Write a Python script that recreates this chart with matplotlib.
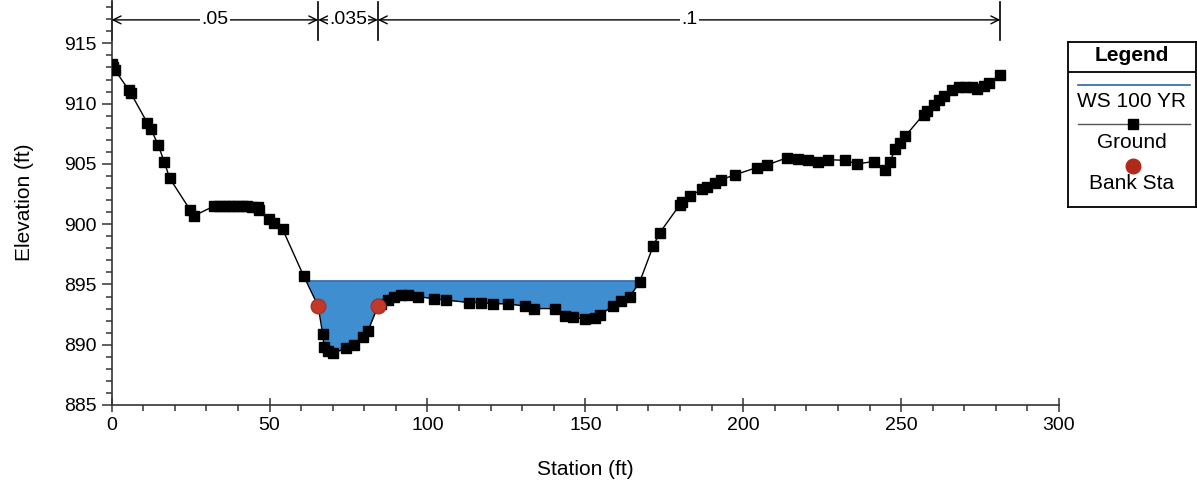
import numpy as np
import matplotlib.pyplot as plt
from matplotlib.ticker import MultipleLocator
from matplotlib.lines import Line2D

plt.rcParams['font.family'] = ['Liberation Sans', 'DejaVu Sans']

# ground survey points
station = [0.0, 0.5, 1.0, 5.5, 6.0, 11.3, 12.4, 14.7, 16.6, 18.4, 24.8, 26.1,
           32.4, 34.0, 35.5, 37.0, 38.5, 40.0, 41.5, 43.0, 44.5, 46.2, 46.7,
           49.9, 51.5, 54.1, 60.8, 65.4, 66.8, 67.3, 68.5, 70.0, 74.2, 76.8,
           79.5, 81.1, 84.3, 85.3, 87.4, 89.5, 91.5, 93.8, 97.0, 102.2, 105.9,
           113.3, 117.0, 120.7, 125.5, 130.8, 133.9, 140.3, 143.5, 146.1,
           149.8, 153.0, 154.6, 158.8, 161.4, 164.1, 167.2, 171.5, 173.6,
           179.9, 180.5, 183.1, 186.8, 188.4, 191.0, 193.1, 197.4, 204.3,
           207.4, 213.8, 217.5, 220.6, 223.8, 227.0, 232.3, 236.0, 241.3,
           245.0, 246.5, 248.1, 249.7, 251.3, 257.1, 258.2, 260.3, 261.9,
           263.5, 266.1, 268.2, 270.3, 272.4, 274.0, 276.1, 277.7, 281.4]
elevation = [913.3, 913.0, 912.8, 911.1, 910.9, 908.4, 907.9, 906.6, 905.2,
             903.8, 901.2, 900.7, 901.5, 901.5, 901.5, 901.5, 901.5, 901.5,
             901.5, 901.5, 901.4, 901.4, 901.2, 900.4, 900.1, 899.6, 895.7,
             893.2, 890.9, 889.8, 889.5, 889.3, 889.7, 890.0, 890.6, 891.1,
             893.2, 893.4, 893.7, 894.0, 894.1, 894.1, 894.0, 893.8, 893.7,
             893.5, 893.5, 893.4, 893.4, 893.2, 893.0, 893.0, 892.4, 892.3,
             892.1, 892.2, 892.5, 893.2, 893.6, 894.0, 895.2, 898.2, 899.3,
             901.6, 901.8, 902.3, 902.9, 903.1, 903.4, 903.7, 904.1, 904.7,
             904.9, 905.5, 905.4, 905.3, 905.2, 905.35, 905.3, 905.0, 905.2,
             904.5, 905.2, 906.2, 906.7, 907.3, 909.1, 909.4, 909.9, 910.3,
             910.6, 911.1, 911.4, 911.4, 911.4, 911.2, 911.5, 911.7, 912.4]

bank_sta = [65.4, 84.3]
bank_elev = [893.2, 893.2]
ws_elev = 895.3

# Manning's n reaches
n_bounds = [0.0, 65.4, 84.3, 281.4]
n_labels = ['.05', '.035', '.1']

x = np.array(station)
z = np.array(elevation)

fig = plt.figure(figsize=(11.97, 4.87), dpi=100)
ax = fig.add_axes([0.0933, 0.1684, 0.7914, 0.8316])

# water surface
ax.fill_between(x, z, ws_elev, where=z <= ws_elev, interpolate=True,
                color='#3f8ed0', linewidth=0)
ax.plot(x, z, color='black', lw=1.0, marker='s', ms=6.5, zorder=3)
# ws line clipped to wet extent
left = np.interp(ws_elev, z[26:28][::-1], x[26:28][::-1])
right = np.interp(ws_elev, z[60:62], x[60:62])
ax.plot([left, right], [ws_elev, ws_elev], color='#2c63a8', lw=1.2, zorder=2)
ax.plot(bank_sta, bank_elev, 'o', color='#c0392b', ms=10.5, zorder=4,
        markeredgecolor='#b03020')

# n-value annotations
arrow_y = 916.95
for b in n_bounds:
    ax.plot([b, b], [915.3, 918.45], color='black', lw=1.2, clip_on=False)
for i, lab in enumerate(n_labels):
    a, b = n_bounds[i], n_bounds[i + 1]
    ax.annotate('', xy=(a, arrow_y), xytext=(b, arrow_y),
                arrowprops=dict(arrowstyle='<->', color='black', lw=1.0,
                                shrinkA=0, shrinkB=0, mutation_scale=14))
    ax.text((a + b) / 2, arrow_y, lab, ha='center', va='center', fontsize=14,
            bbox=dict(facecolor='white', edgecolor='none', pad=1.0))

ax.set_xlim(0, 300)
ax.set_ylim(885, 918.6)
ax.xaxis.set_major_locator(MultipleLocator(50))
ax.xaxis.set_minor_locator(MultipleLocator(10))
ax.yaxis.set_minor_locator(MultipleLocator(1))
ax.set_yticks([885, 890, 895, 900, 905, 910, 915])
ax.tick_params(axis='both', which='major', labelsize=14, length=7, width=1.1,
               direction='out', color='#333333')
ax.tick_params(axis='x', which='major', direction='inout', length=10)
ax.tick_params(axis='both', which='minor', length=4, width=1.1,
               direction='out', color='#333333')
for s in ['top', 'right']:
    ax.spines[s].set_visible(False)
for s in ['left', 'bottom']:
    ax.spines[s].set_linewidth(1.2)
    ax.spines[s].set_color('#333333')
ax.set_xlabel('Station (ft)', fontsize=15, labelpad=19)
ax.set_ylabel('Elevation (ft)', fontsize=15, labelpad=22)

# legend box drawn in its own axes, pixel coordinates
lg = fig.add_axes([0.8922, 0.575, 0.1069, 0.3388])
lg.set_xlim(1068, 1196)
lg.set_ylim(207, 42)
lg.set_xticks([])
lg.set_yticks([])
for s in lg.spines.values():
    s.set_linewidth(1.3)
lg.axhline(72, color='black', lw=1.3)
lg.text(1132, 56, 'Legend', ha='center', va='center', fontsize=15,
        fontweight='bold')
lg.add_line(Line2D([1078, 1190], [85, 85], color='#2c63a8', lw=1.2))
lg.text(1132, 102, 'WS 100 YR', ha='center', va='center', fontsize=15)
lg.add_line(Line2D([1078, 1190], [124, 124], color='#555555', lw=1.0))
lg.plot([1133], [124], 's', color='black', ms=6.5)
lg.text(1132, 143, 'Ground', ha='center', va='center', fontsize=15)
lg.plot([1133], [166], 'o', color='#b02a1a', ms=10.5)
lg.text(1132, 184, 'Bank Sta', ha='center', va='center', fontsize=15)

fig.savefig('out.png', dpi=100)
